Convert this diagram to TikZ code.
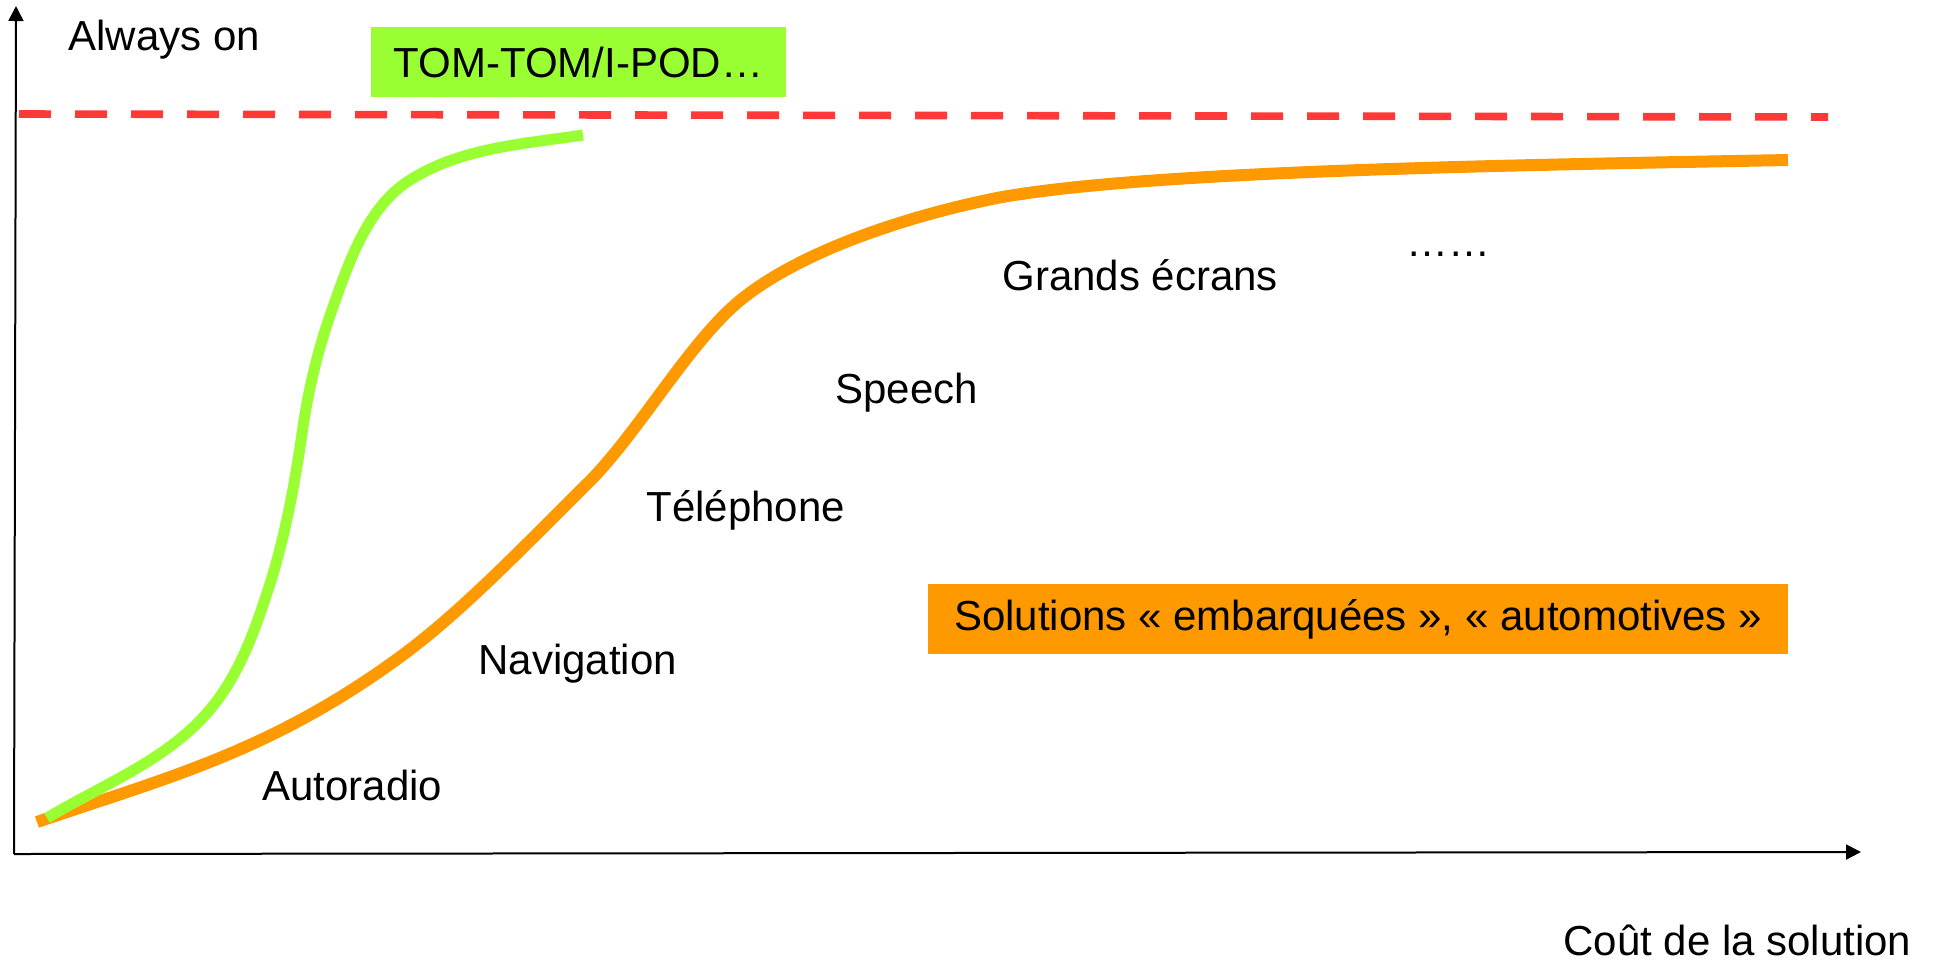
\documentclass[tikz,border=0pt]{standalone}
\usepackage{fontspec}
\setmainfont{Liberation Sans}
\usetikzlibrary{arrows.meta}
\definecolor{lime}{HTML}{99FF33}
\definecolor{amber}{HTML}{FF9900}
\definecolor{alarm}{HTML}{FF3838}
\tikzset{
  axis/.style={line width=1pt, -{Triangle[length=7.5pt,width=7.5pt]}},
  label/.style={inner sep=0pt, anchor=base west, font=\fontsize{21}{25}\selectfont},
  tag/.style={inner sep=0pt, font=\fontsize{21}{25}\selectfont, text=black},
  ceiling/.style={alarm, line width=3.8pt, dash pattern=on 16pt off 12pt}
}
\begin{document}
\begin{tikzpicture}[x=0.5pt, y=-0.5pt]
\useasboundingbox (0,0) rectangle (1937,960);

% axes
\coordinate (O) at (14,854);
\coordinate (ytop) at (16,6);
\coordinate (xend) at (1861,852);
\draw[axis] (O) -- (ytop);
\draw[axis] (O) -- (xend);

% upper limit
\coordinate (limL) at (19,114);
\coordinate (limR) at (1828,117);
\draw[ceiling] (limL) -- (limR);

% embedded solutions
\draw[amber, line width=6pt]
  (37,822) .. controls (166,778) and (270,752) .. (400,657)
           .. controls (463,611) and (527,543) .. (590,481)
           .. controls (639,431) and (688,345) .. (737,303)
           .. controls (797,252) and (907,216) .. (997,198)
           .. controls (1147,170) and (1528,165) .. (1788,160);

% nomadic devices
\draw[lime, line width=5.5pt]
  (47,818) .. controls (102,785) and (165,761) .. (207,713)
           .. controls (237,679) and (253,636) .. (267,593)
           .. controls (285,539) and (295,483) .. (303,427)
           .. controls (309,386) and (319,346) .. (333,307)
           .. controls (349,262) and (367,209) .. (407,182)
           .. controls (458,148) and (523,144) .. (583,135);

% axis labels
\node[label] (alw) at (68,50) {Always on};
\node[label] (cost) at (1563,955) {Coût de la solution};

% boxes
\node[tag, fill=lime, minimum width=207.5pt, minimum height=35pt] (tom) at (578.5,62) {TOM-TOM/I-POD…};
\node[tag, fill=amber, minimum width=430pt, minimum height=35pt] (emb) at (1358,619) {Solutions «~embarquées~», «~automotives~»};

% features along the curve
\node[label] (auto) at (262,800) {Autoradio};
\node[label] (nav) at (478,674) {Navigation};
\node[label] (tel) at (646,521) {Téléphone};
\node[label] (sp) at (835,403) {Speech};
\node[label] (ge) at (1002,290) {Grands écrans};
\node[label] (etc) at (1406,256) {……};
\end{tikzpicture}
\end{document}
